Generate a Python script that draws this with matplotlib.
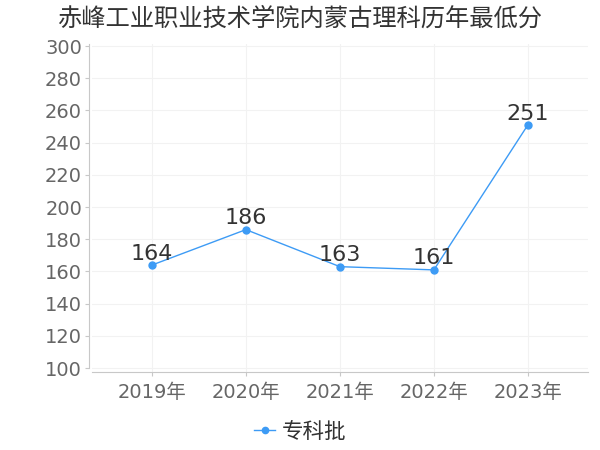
import matplotlib.pyplot as plt

plt.rcParams['font.family'] = ['DejaVu Sans', 'Noto Sans CJK SC']

years = ["2019年", "2020年", "2021年", "2022年", "2023年"]
scores = [164, 186, 163, 161, 251]
series_name = "专科批"
title = "赤峰工业职业技术学院内蒙古理科历年最低分"

line_color = '#3d9bf5'

fig = plt.figure(figsize=(6, 4.5), dpi=100)
ax = fig.add_axes([0.153, 0.173, 0.827, 0.729])

x = list(range(len(years)))
ax.plot(x, scores, color=line_color, lw=1, marker='o', markersize=5, label=series_name, zorder=3)

for xi, v in zip(x, scores):
    ax.annotate(str(v), (xi, v), xytext=(0, 1), textcoords='offset points',
                ha='center', va='bottom', fontsize=16, color='#333333')

ax.set_xlim(-0.64, 4.64)
ax.set_ylim(97.5, 301.2)
ax.set_yticks(range(100, 301, 20))
ax.set_xticks(x)
ax.set_xticklabels(years)

ax.grid(True, color='#f2f2f2', lw=0.8)
ax.set_axisbelow(True)
for s in ['top', 'right']:
    ax.spines[s].set_visible(False)
ax.spines['left'].set_bounds(100, 301.2)
ax.spines['left'].set_position(('outward', 2))
ax.spines['left'].set_color('#c8c8c8')
ax.spines['bottom'].set_color('#c8c8c8')
ax.tick_params(axis='y', length=3, color='#c8c8c8', labelsize=14, labelcolor='#666666', pad=2)
ax.tick_params(axis='x', length=3, color='#c8c8c8', labelsize=14, labelcolor='#666666', pad=5)

fig.text(0.5, 0.958, title, ha='center', va='center', fontsize=17.5, color='#333333',
         family=['Noto Sans CJK SC', 'DejaVu Sans'])

fig.legend(loc='center', bbox_to_anchor=(0.5, 0.04), frameon=False,
           prop={'family': ['Noto Sans CJK SC', 'DejaVu Sans'], 'size': 15.5},
           labelcolor='#333333', handlelength=1.0, handletextpad=0.3, markerscale=0.9)

fig.savefig('out.png')
